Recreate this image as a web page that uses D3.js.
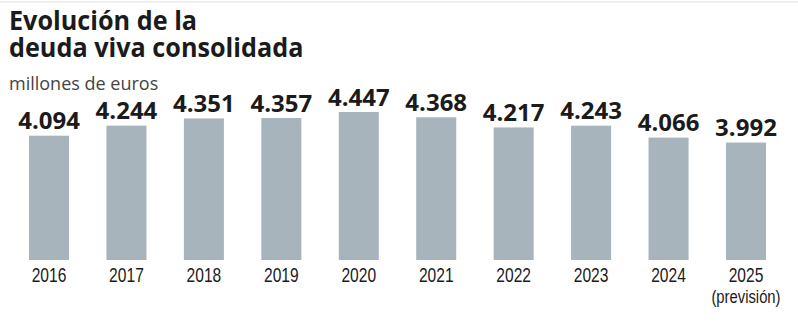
<!DOCTYPE html>
<html>
<head>
<meta charset="utf-8">
<script src="https://cdn.jsdelivr.net/npm/d3@7"></script>
<style>
  html, body { margin: 0; padding: 0; background: #fff; }
  svg { display: block; font-family: "Open Sans", sans-serif; }
</style>
</head>
<body>
<svg id="chart" width="798" height="326"></svg>
<script>
var years = ["2016", "2017", "2018", "2019", "2020", "2021", "2022", "2023", "2024", "2025"];
var deuda = [4094, 4244, 4351, 4357, 4447, 4368, 4217, 4243, 4066, 3992];
var yearNotes = ["", "", "", "", "", "", "", "", "", "(previsión)"];

var svg = d3.select("#chart"),
    width = +svg.attr("width"),
    height = +svg.attr("height");

var fmt = d3.formatLocale({decimal: ",", thousands: ".", grouping: [3], currency: ["", "€"]}).format(",d");

// thin rule on top
svg.append("line")
    .attr("x1", 0).attr("x2", width)
    .attr("y1", 2).attr("y2", 2)
    .attr("stroke", "#efefef")
    .attr("stroke-width", 2);

// title
svg.append("text")
    .attr("x", 9).attr("y", 30)
    .attr("font-size", 26).attr("font-weight", 700)
    .attr("fill", "#1b1b1b")
    .attr("transform", "translate(9,0) scale(0.97,1) translate(-9,0)")
    .text("Evolución de la");
svg.append("text")
    .attr("x", 9).attr("y", 57)
    .attr("font-size", 26).attr("font-weight", 700)
    .attr("fill", "#1b1b1b")
    .attr("transform", "translate(9,0) scale(0.97,1) translate(-9,0)")
    .text("deuda viva consolidada");
svg.append("text")
    .attr("x", 9).attr("y", 90)
    .attr("font-size", 18).attr("font-weight", 400)
    .attr("fill", "#444")
    .text("millones de euros");

var x = d3.scaleBand()
    .domain(years)
    .range([10.3, 784.7])
    .paddingInner(0.483)
    .paddingOuter(0.2415);

var y = d3.scaleLinear()
    .domain([2242, 4447])
    .range([260, 112]);

var g = svg.append("g");

g.selectAll("rect")
    .data(years)
    .enter().append("rect")
    .attr("x", function(d) { return x(d); })
    .attr("width", x.bandwidth())
    .attr("y", function(d, i) { return y(deuda[i]); })
    .attr("height", function(d, i) { return y.range()[0] - y(deuda[i]); })
    .attr("fill", "#a8b4bb");

g.selectAll(".val")
    .data(years)
    .enter().append("text")
    .attr("class", "val")
    .attr("transform", function(d, i) {
        return "translate(" + (x(d) + x.bandwidth() / 2) + "," + (y(deuda[i]) - 6.5) + ")";
    })
    .attr("text-anchor", "middle")
    .attr("font-size", 24).attr("font-weight", 700)
    .attr("fill", "#1b1b1b")
    .text(function(d, i) { return fmt(deuda[i]); });

// year labels, slightly condensed
var axis = svg.append("g")
    .attr("transform", "translate(0,260)")
    .call(d3.axisBottom(x).tickSize(0).tickPadding(0));
axis.select(".domain").remove();
axis.selectAll(".tick text").remove();

axis.selectAll(".tick").each(function(d, i) {
    var tick = d3.select(this);
    tick.append("text")
        .attr("transform", "translate(0,22.3) scale(0.78,1)")
        .attr("text-anchor", "middle")
        .attr("font-size", 20)
        .attr("fill", "#1b1b1b")
        .text(d);
    if (yearNotes[i]) {
        tick.append("text")
            .attr("transform", "translate(0,42.5) scale(0.78,1)")
            .attr("text-anchor", "middle")
            .attr("font-size", 19)
            .attr("fill", "#1b1b1b")
            .text(yearNotes[i]);
    }
});
</script>
</body>
</html>
